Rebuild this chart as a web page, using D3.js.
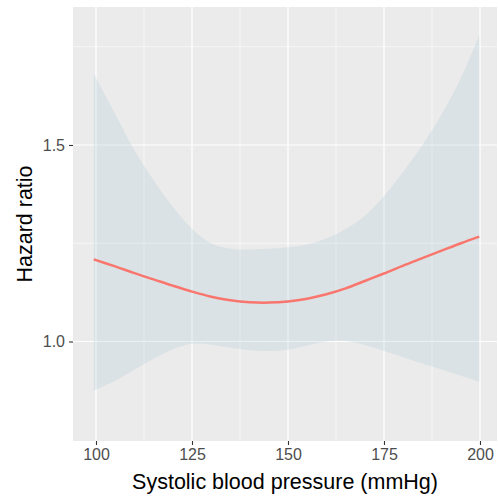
<!DOCTYPE html>
<html>
<head>
<meta charset="utf-8">
<script src="https://cdn.jsdelivr.net/npm/d3@7"></script>
<style>
  body { margin: 0; background: #fff; }
  text { font-family: "Liberation Sans", Arial, sans-serif; }
</style>
</head>
<body>
<script>
// chart values
var sbp   = [99.4, 105, 110, 115, 120, 125, 130, 135, 140, 145, 150, 155, 160, 165, 170, 175, 180, 185, 190, 195, 199.8];
var hr    = [1.209, 1.191, 1.174, 1.158, 1.142, 1.127, 1.114, 1.105, 1.100, 1.099, 1.102, 1.109, 1.120, 1.135, 1.154, 1.173, 1.193, 1.212, 1.231, 1.250, 1.267];
var lower = [0.875, 0.900, 0.928, 0.956, 0.980, 0.994, 0.992, 0.984, 0.978, 0.976, 0.979, 0.990, 1.000, 1.001, 0.991, 0.976, 0.960, 0.944, 0.929, 0.913, 0.898];
var upper = [1.681, 1.579, 1.487, 1.411, 1.343, 1.287, 1.250, 1.236, 1.234, 1.236, 1.240, 1.247, 1.262, 1.286, 1.320, 1.370, 1.432, 1.500, 1.578, 1.670, 1.780];

var xTicks = [100, 125, 150, 175, 200];
var xMinor = [112.5, 137.5, 162.5, 187.5];
var yTicks = [1.0, 1.5];
var yMinor = [1.25, 1.75];

var w = 498, h = 504;
var panel = {left: 73, top: 7, right: 497, bottom: 441};

var svg = d3.select("body").append("svg")
    .attr("width", w)
    .attr("height", h);

var x = d3.scaleLinear().domain([94.01, 204.43]).range([panel.left, panel.right]);
var y = d3.scaleLinear().domain([0.7468, 1.8511]).range([panel.bottom, panel.top]);

var rows = sbp.map(function(d, i){
    return {x: d, hr: hr[i], lo: lower[i], hi: upper[i]};
});

// grey panel
svg.append("rect")
    .attr("x", panel.left)
    .attr("y", panel.top)
    .attr("width", panel.right - panel.left)
    .attr("height", panel.bottom - panel.top)
    .style("fill", "#EBEBEB");

// grid, minor first
var grid = svg.append("g").attr("class", "grid");
grid.selectAll(".xminor").data(xMinor).enter().append("line")
    .attr("x1", function(d){ return x(d); }).attr("x2", function(d){ return x(d); })
    .attr("y1", panel.top).attr("y2", panel.bottom)
    .style("stroke", "#fff").style("stroke-width", 0.6);
grid.selectAll(".yminor").data(yMinor).enter().append("line")
    .attr("y1", function(d){ return y(d); }).attr("y2", function(d){ return y(d); })
    .attr("x1", panel.left).attr("x2", panel.right)
    .style("stroke", "#fff").style("stroke-width", 0.6);
grid.selectAll(".xmajor").data(xTicks).enter().append("line")
    .attr("x1", function(d){ return x(d); }).attr("x2", function(d){ return x(d); })
    .attr("y1", panel.top).attr("y2", panel.bottom)
    .style("stroke", "#fff").style("stroke-width", 1.2);
grid.selectAll(".ymajor").data(yTicks).enter().append("line")
    .attr("y1", function(d){ return y(d); }).attr("y2", function(d){ return y(d); })
    .attr("x1", panel.left).attr("x2", panel.right)
    .style("stroke", "#fff").style("stroke-width", 1.2);

// confidence band
var band = d3.area()
    .curve(d3.curveCatmullRom)
    .x(function(d){ return x(d.x); })
    .y0(function(d){ return y(d.lo); })
    .y1(function(d){ return y(d.hi); });

svg.append("path")
    .datum(rows)
    .attr("d", band)
    .style("fill", "#ABC7D3")
    .style("fill-opacity", 0.25);

// hazard ratio curve
var line = d3.line()
    .curve(d3.curveCatmullRom)
    .x(function(d){ return x(d.x); })
    .y(function(d){ return y(d.hr); });

svg.append("path")
    .datum(rows)
    .attr("d", line)
    .style("fill", "none")
    .style("stroke", "#F8766D")
    .style("stroke-width", 2.5);

// axes
var xAxis = svg.append("g")
    .attr("transform", "translate(0," + panel.bottom + ")")
    .call(d3.axisBottom(x).tickValues(xTicks).tickSize(4).tickPadding(4).tickFormat(d3.format("d")));
var yAxis = svg.append("g")
    .attr("transform", "translate(" + panel.left + ",0)")
    .call(d3.axisLeft(y).tickValues(yTicks).tickSize(4).tickPadding(4).tickFormat(d3.format(".1f")));

[xAxis, yAxis].forEach(function(a){
    a.select(".domain").remove();
    a.selectAll(".tick line").style("stroke", "#333").style("stroke-width", 1.1);
    a.selectAll(".tick text")
        .style("fill", "#4D4D4D")
        .style("font-size", "16px")
        .style("font-family", "'Liberation Sans', Arial, sans-serif");
});

// axis titles
svg.append("text")
    .attr("x", (panel.left + panel.right) / 2)
    .attr("y", 488.5)
    .attr("text-anchor", "middle")
    .style("font-size", "21.5px")
    .style("fill", "#000")
    .text("Systolic blood pressure (mmHg)");

svg.append("text")
    .attr("transform", "translate(31.5," + ((panel.top + panel.bottom) / 2) + ") rotate(-90)")
    .attr("text-anchor", "middle")
    .style("font-size", "21.5px")
    .style("fill", "#000")
    .text("Hazard ratio");
</script>
</body>
</html>
